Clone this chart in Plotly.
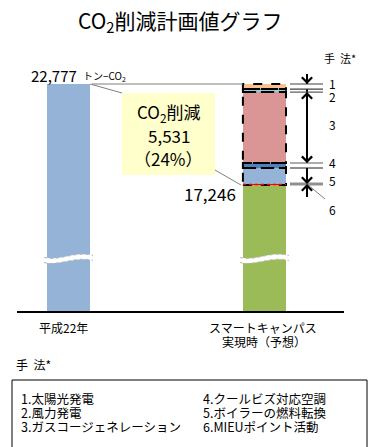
import plotly.graph_objects as go

W, H = 377, 447
FONT = "Noto Sans CJK JP"

# ---- data ----
categories = ["平成22年", "スマートキャンパス<br>実現時（予想）"]
baseline_2010 = 22777
projected = 17246
reduction = 5531
reduction_pct = 24
method_labels = ["1", "2", "3", "4", "5", "6"]
method_names = ["1.太陽光発電", "2.風力発電", "3.ガスコージェネレーション",
                "4.クールビズ対応空調", "5.ボイラーの燃料転換", "6.MIEUポイント活動"]
method_values = [280, 160, 3890, 270, 876, 55]
method_colors = ["#FAC090", "#93CDDD", "#D99694", "#4F81BD", "#95B3D7", "#FF0000"]

# ---- layout geometry (pixels) ----
PL, PR, PT, PB = 17, 344, 60, 311
upp = reduction / 101.0          # units per pixel
Y_TOP = baseline_2010 + 24 * upp
Y_BOT = baseline_2010 - 227 * upp
BW = 0.22
XR0, XR1 = -0.263, 1.406


def px_x(p):
    return XR0 + (p - PL) / (PR - PL) * (XR1 - XR0)


def px_y(p):
    return Y_TOP - (p - PT) * upp


fig = go.Figure()
fig.add_trace(go.Bar(x=[0], y=[baseline_2010], width=BW, marker_color="#95B3D7",
                     marker_line_width=0, showlegend=False))
fig.add_trace(go.Bar(x=[1], y=[projected], width=BW, marker_color="#9BBB59",
                     marker_line_width=0, showlegend=False))
# stacked reduction segments (from bottom: 6,5,4,3,2,1)
base = projected
seg_bounds = {}
for i in reversed(range(len(method_values))):
    v = method_values[i]
    fig.add_trace(go.Bar(x=[1], y=[v], base=[base], width=BW,
                         marker_color=method_colors[i], marker_line_width=0,
                         showlegend=False))
    seg_bounds[i] = (base, base + v)
    base += v

shapes = []
# dashed outlines around segments 1-5
for i in range(5):
    y0, y1 = seg_bounds[i]
    if i == 4:
        y0 = seg_bounds[5][0]
    shapes.append(dict(type="rect", xref="x", yref="y", x0=1 - BW / 2, x1=1 + BW / 2,
                       y0=y0, y1=y1, line=dict(color="black", width=2, dash="dash")))
# red dashed for segment 6
shapes.append(dict(type="line", xref="x", yref="y", x0=1 - BW / 2, x1=1 + BW / 2,
                   y0=projected + method_values[5] / 2, y1=projected + method_values[5] / 2,
                   line=dict(color="#FF0000", width=1.5, dash="dot")))

# reference line from left bar top to right bar top
shapes.append(dict(type="line", xref="x", yref="y", x0=px_x(92), x1=1 - BW / 2,
                   y0=baseline_2010, y1=baseline_2010, line=dict(color="#808080", width=1)))
# callout box
bx0, bx1, by0, by1 = 122, 215, 93, 175
shapes.append(dict(type="rect", xref="x", yref="y", x0=px_x(bx0), x1=px_x(bx1),
                   y0=px_y(by1), y1=px_y(by0), fillcolor="#FFFFCC", line=dict(width=0),
                   layer="below"))
shapes.append(dict(type="line", xref="x", yref="y", x0=BW / 2, y0=baseline_2010,
                   x1=px_x(bx0), y1=px_y(by0), line=dict(color="#808080", width=1)))
shapes.append(dict(type="line", xref="x", yref="y", x0=px_x(bx1), y0=px_y(170),
                   x1=1 - BW / 2 - 0.01, y1=projected, line=dict(color="#808080", width=1)))

# bracket on the right
ax = px_x(307)
hx0, hx1 = px_x(290), px_x(323)
top1 = baseline_2010
b12 = seg_bounds[0][0]
b23 = seg_bounds[1][0]
b34 = seg_bounds[2][0]
b45 = seg_bounds[3][0]
b56 = seg_bounds[4][0]
for yv, col, wd in [(top1, "#404040", 1.2), (b12, "#404040", 1.2), (b23, "#606060", 1.2),
                    (b34, "#909090", 1.5), (b45, "#202020", 1.2), (b56, "#909090", 3)]:
    shapes.append(dict(type="line", xref="x", yref="y", x0=hx0, x1=hx1, y0=yv, y1=yv,
                       line=dict(color=col, width=wd)))
shaft_x, shaft_y = [], []
for ya, yb in [(top1, px_y(74)), (b12, b23), (b23, b34), (b45, b56), (b56, px_y(197))]:
    shaft_x += [ax, ax, None]
    shaft_y += [ya, yb, None]
fig.add_trace(go.Scatter(x=shaft_x, y=shaft_y, mode="lines",
                         line=dict(color="black", width=2), showlegend=False,
                         hoverinfo="skip"))
shapes.append(dict(type="line", xref="x", yref="y", x0=ax, x1=px_x(325), y0=b56,
                   y1=px_y(199), line=dict(color="#808080", width=1)))

ann = []


def arrow(y_tip, direction):
    # direction: +1 tail above tip (arrow points down), -1 tail below (points up)
    ann.append(dict(x=ax, y=y_tip, ax=0, ay=-7 * direction, xref="x", yref="y",
                    text="", showarrow=True, arrowhead=4,
                    arrowsize=1.1, arrowwidth=1.8, arrowcolor="black",
                    standoff=0, startstandoff=0))


arrow(top1, +1)
arrow(b23, -1)
arrow(b34, +1)
arrow(b56, +1)
arrow(b56, -1)

# break marks on both bars
for cx in (0, 1):
    for off, col, wd, dash in [(0, "white", 5, "solid"), (-2.5, "#B8B8B8", 1, "dot"),
                               (2.5, "#B8B8B8", 1, "dot")]:
        yc = 259 + off
        L = cx - BW / 2 - 0.015
        R = cx + BW / 2 + 0.015
        path = (f"M {L},{px_y(yc + 1)} C {L + 0.08},{px_y(yc + 5)} "
                f"{R - 0.09},{px_y(yc - 6)} {R},{px_y(yc - 1)}")
        shapes.append(dict(type="path", xref="x", yref="y", path=path,
                           line=dict(color=col, width=wd, dash=dash)))

# legend box (paper coords)
shapes.append(dict(type="rect", xref="paper", yref="paper", x0=12 / W, x1=367 / W,
                   y0=-0.02, y1=1 - 380 / H, line=dict(color="black", width=1)))


def txt(text, x, y, size, xanchor="center", color="black", xref="x", yref="y",
        height=None):
    d = dict(text=text, x=x, y=y, xref=xref, yref=yref, showarrow=False,
             xanchor=xanchor, yanchor="middle",
             font=dict(family=FONT, size=size, color=color))
    if height:
        d["height"] = height
        d["borderpad"] = 0
    ann.append(d)


def ptxt(text, px, py, size, xanchor="center", height=None):
    txt(text, px / W, 1 - py / H, size, xanchor, xref="paper", yref="paper",
        height=height)


ptxt("CO<sub>2</sub>削減計画値グラフ", 180, 21, 21)
ptxt("手&nbsp;&nbsp;法*", 340, 58, 11)
txt(f"{baseline_2010:,}", px_x(79), px_y(75), 15, "right")
txt("トン−CO<sub>2</sub>", px_x(81), px_y(76), 10, "left")
txt(f"{projected:,}", px_x(238), px_y(193), 17, "right")
cx_box = px_x((bx0 + bx1) / 2)
txt("CO<sub>2</sub>削減", cx_box, px_y(112), 17)
txt(f"{reduction:,}", cx_box, px_y(135), 17)
txt(f"（{reduction_pct}%）", cx_box, px_y(158), 17)

label_y = [83, 96, 124, 162, 180, 209]
for lab, ly in zip(method_labels, label_y):
    txt(lab, px_x(328), px_y(ly), 12, "left", height=11)

# category labels
ptxt(categories[0], 63, 327, 12)
cat2 = categories[1].split("<br>")
ptxt(cat2[0], 263, 327, 12, height=13)
ptxt(cat2[1], 264, 341, 12, height=13)

ptxt("手&nbsp;&nbsp;法*", 14, 364, 12, "left")
cols = [20, 202]
rows = [398, 412, 426]
for i, name in enumerate(method_names):
    ptxt(name, cols[i // 3], rows[i % 3], 12.5, "left", height=13)

fig.update_layout(
    width=W, height=H, margin=dict(l=0, r=0, t=0, b=0),
    paper_bgcolor="white", plot_bgcolor="white",
    barmode="overlay", bargap=0,
    xaxis=dict(domain=[PL / W, PR / W], range=[XR0, XR1], showticklabels=False,
               showgrid=False, zeroline=False, showline=True, linecolor="black",
               linewidth=1.5, ticks=""),
    yaxis=dict(domain=[1 - PB / H, 1 - PT / H], range=[Y_BOT, Y_TOP], visible=False,
               showgrid=False, zeroline=False),
    shapes=shapes, annotations=ann, showlegend=False,
)
fig.write_html("out.html")
